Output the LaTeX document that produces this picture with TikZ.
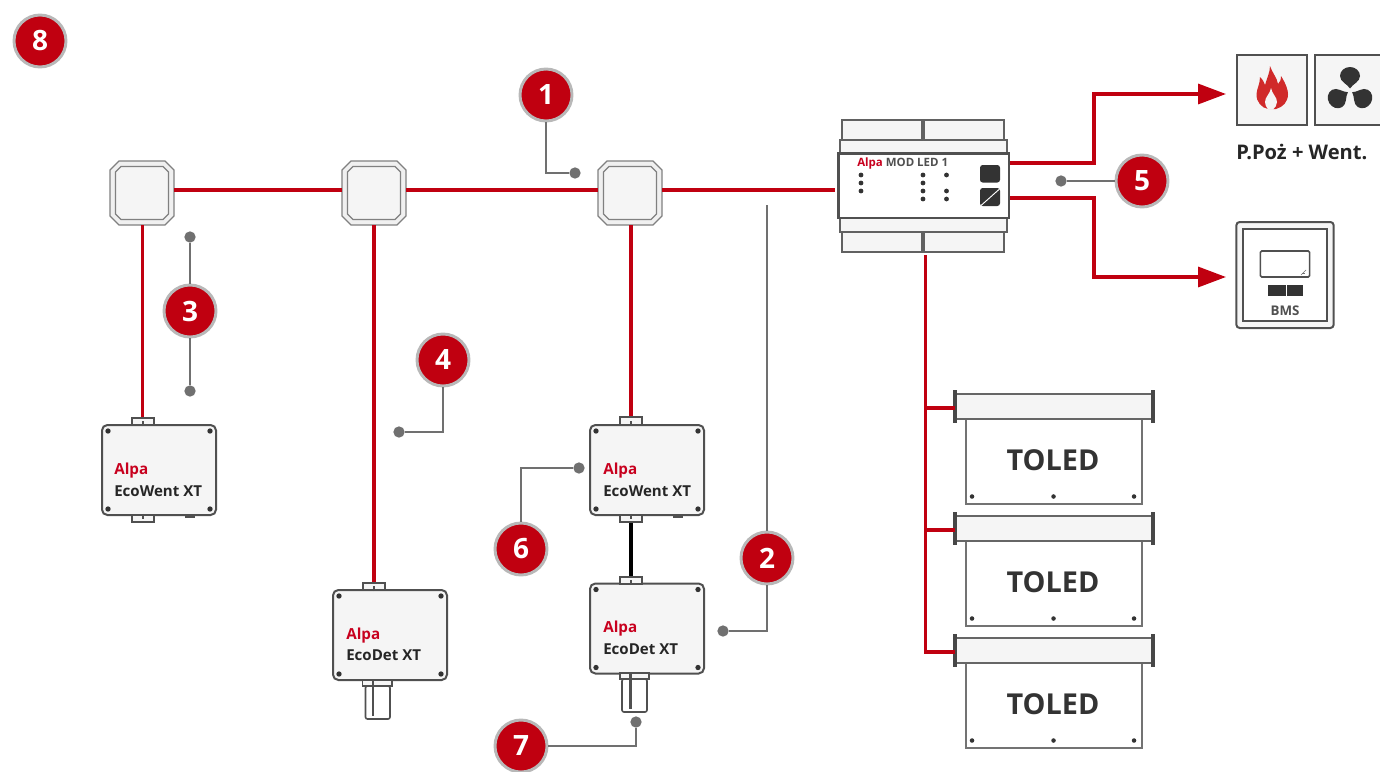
\documentclass[tikz,border=0pt]{standalone}
\usepackage{fontspec}
\setmainfont{Open Sans}
\usetikzlibrary{arrows.meta}
\usetikzlibrary{calc}
\definecolor{alpared}{HTML}{C00010}
\definecolor{alpatxt}{HTML}{C8001E}
\definecolor{edgegray}{HTML}{505050}
\definecolor{leadgray}{HTML}{707070}
\definecolor{panel}{HTML}{F5F5F5}
\definecolor{inkdark}{HTML}{333333}
\definecolor{flamered}{HTML}{D02A2A}
\tikzset{
    redline/.style={draw=alpared, line width=2.5pt},
    leader/.style={draw=leadgray, line width=1.2pt},
    leaddot/.style={circle, fill=leadgray, inner sep=0pt, minimum size=8.5pt},
    callout/.style={circle, fill=alpared, draw=black!28, line width=2.2pt, inner sep=0pt,
        minimum size=39pt, text=white, font=\bfseries\fontsize{21}{21}\selectfont},
    hubspot/.style={inner sep=0pt, minimum size=48pt},
    hubline/.style={draw=black!50, line width=0.9pt},
    devbox/.style={draw=edgegray, line width=1.5pt, fill=panel, rounded corners=4pt, inner sep=0pt,
        minimum width=85.5pt, minimum height=67.5pt},
    gland/.style={draw=edgegray, line width=1.5pt, fill=panel, inner sep=0pt,
        minimum width=16pt, minimum height=5.5pt},
    tube/.style={draw=edgegray, line width=1.2pt, fill=white, rounded corners=1.5pt},
    tick/.style={draw=edgegray, line width=2pt},
    alpatext/.style={anchor=base west, inner sep=0pt, text=alpatxt, font=\bfseries\fontsize{11.4}{12}\selectfont},
    devtext/.style={anchor=base west, inner sep=0pt, text=black!85, font=\bfseries\fontsize{11.3}{12}\selectfont},
    railbox/.style={draw=edgegray!90, line width=1.8pt, fill=panel},
    toledtext/.style={text=inkdark, font=\bfseries\fontsize{21.6}{23}\selectfont},
    darkdot/.style={fill=inkdark},
}
\begin{document}
\begin{tikzpicture}[x=0.75pt, y=-0.75pt]
    \useasboundingbox (0,0) rectangle (1380,771);
    \clip (0,0) rectangle (1380,771);

    % hubs on the bus
    \node[hubspot] (hubA) at (142,193) {};
    \node[hubspot] (hubB) at (374,193) {};
    \node[hubspot] (hubC) at (630,193) {};
    \foreach \hb in {hubA,hubB,hubC}{
        \draw[hubline, fill=black!6] ($(\hb)+(-23,-32)$) -- ($(\hb)+(23,-32)$) -- ($(\hb)+(32,-23)$) -- ($(\hb)+(32,23)$)
            -- ($(\hb)+(23,32)$) -- ($(\hb)+(-23,32)$) -- ($(\hb)+(-32,23)$) -- ($(\hb)+(-32,-23)$) -- cycle;
        \draw[hubline, fill=panel] ($(\hb)+(-21,-26.5)$) -- ($(\hb)+(21,-26.5)$) -- ($(\hb)+(26.5,-21)$) -- ($(\hb)+(26.5,21)$)
            -- ($(\hb)+(21,26.5)$) -- ($(\hb)+(-21,26.5)$) -- ($(\hb)+(-26.5,21)$) -- ($(\hb)+(-26.5,-21)$) -- cycle;
    }

    % devices
    \node[devbox] (wentA) at (159,470) {};
    \node[devbox] (detB) at (390,635) {};
    \node[devbox] (wentC) at (647,470) {};
    \node[devbox] (detC) at (647,628.5) {};
    \foreach \dev in {wentA,detB,wentC,detC}{
        \fill[darkdot] ($(\dev.north west)+(7,7)$) circle (2pt);
        \fill[darkdot] ($(\dev.north east)+(-7,7)$) circle (2pt);
        \fill[darkdot] ($(\dev.south west)+(7,-7)$) circle (2pt);
        \fill[darkdot] ($(\dev.south east)+(-7,-7)$) circle (2pt);
    }

    % glands
    \node[gland] (glandA) at (143,421.5) {};
    \node[gland] (glandAb) at (143,518.5) {};
    \node[gland] (glandB) at (374,586.5) {};
    \node[gland] (glandC) at (631,421) {};
    \node[gland] (glandCb) at (631,518.5) {};
    \node[gland] (glandD) at (631,580.5) {};
    \foreach \gl in {glandA,glandB,glandC,glandD}
        \draw[tick] (\gl.south) -- ++(0,-5);
    \foreach \gl in {glandAb,glandCb}
        \draw[tick] (\gl.north) -- ++(0,5);
    \fill[edgegray] (185,515) rectangle (195,517.5);
    \fill[edgegray] (673,515) rectangle (683,517.5);

    % probes
    \draw[tube] (365.5,686) rectangle (390,719);
    \draw[tube, rounded corners=0pt, fill=panel] (362.5,680) rectangle (392,686);
    \draw[tick, line width=2.2pt] (373,681) -- (373,716);
    \draw[tube] (622,679) rectangle (647,712);
    \draw[tube, rounded corners=0pt, fill=panel] (620,673) rectangle (649,679);
    \draw[tick, line width=2.2pt] (630.5,674) -- (630.5,709);

    % device labels
    \node[alpatext] (lblA1) at (114,474) {Alpa};
    \node[devtext] (lblA2) at (114,496) {EcoWent XT};
    \node[alpatext] (lblB1) at (346,639) {Alpa};
    \node[devtext] (lblB2) at (346,660.5) {EcoDet XT};
    \node[alpatext] (lblC1) at (603,474) {Alpa};
    \node[devtext] (lblC2) at (603,496) {EcoWent XT};
    \node[alpatext] (lblD1) at (603,632) {Alpa};
    \node[devtext] (lblD2) at (603,654) {EcoDet XT};

    % DIN module
    \draw[railbox] (842,120) rectangle (1004,140);
    \draw[railbox] (842,232) rectangle (1004,252);
    \draw[railbox] (840,140) rectangle (1007,153);
    \draw[railbox] (840,218) rectangle (1007,232);
    \draw[railbox, line width=2.4pt] (923,120) -- (923,140);
    \draw[railbox, line width=2.4pt] (923,232) -- (923,252);
    \node[draw=edgegray, line width=2pt, fill=white, minimum width=128pt, minimum height=48.5pt, inner sep=0pt] (modMain) at (923.5,185.5) {};
    \node[anchor=west, inner sep=0pt, font=\bfseries\fontsize{8.6}{9}\selectfont, text=edgegray] (modLabel) at (857,163.5) {\textcolor{alpatxt}{Alpa} MOD LED 1};
    \foreach \yy in {175,183,191}
        \fill[darkdot] (861,\yy) circle (1.8pt);
    \foreach \yy in {175,183,191,199}
        \fill[darkdot] (923,\yy) circle (1.8pt);
    \foreach \yy in {175,191,199}
        \fill[darkdot] (946.5,\yy) circle (1.8pt);
    \fill[inkdark, rounded corners=2pt] (980,165) rectangle (1000,182.5);
    \fill[inkdark, rounded corners=2pt] (980,188) rectangle (1000,206);
    \draw[white, line width=0.7pt] (981,205.5) -- (999.5,189);

    % bus
    \coordinate (busEnd) at (835,190);
    \coordinate (hubAe) at (174,190);
    \coordinate (hubBw) at (342,190);
    \coordinate (hubBe) at (406,190);
    \coordinate (hubCw) at (598,190);
    \coordinate (hubCe) at (662,190);
    \coordinate (hubAs) at (142.5,225);
    \coordinate (hubBs) at (374,225);
    \coordinate (hubCs) at (631,225);
    \draw[redline] (hubAe) -- (hubBw);
    \draw[redline] (hubBe) -- (hubCw);
    \draw[redline] (hubCe) -- (busEnd);
    \draw[redline] (hubAs) -- (hubAs |- glandA.north);
    \draw[redline] (hubBs) -- (glandB.north);
    \draw[redline] (hubCs) -- (glandC.north);
    \draw[draw=black, line width=2.6pt] (glandCb.south) -- (glandD.north);

    % outputs
    \coordinate (modOutA) at (1010,163);
    \coordinate (modOutB) at (1010,198);
    \coordinate (turnA) at (1094,94);
    \coordinate (turnB) at (1094,277);
    \coordinate (fireIn) at (1226,94);
    \coordinate (bmsIn) at (1226,277);
    \draw[redline, -{Triangle[length=21pt,width=15pt]}] (modOutA) -| (turnA) -- (fireIn);
    \draw[redline, -{Triangle[length=21pt,width=15pt]}] (modOutB) -| (turnB) -- (bmsIn);

    % fire and fan
    \node[draw=edgegray, line width=1.5pt, fill=panel, minimum size=52pt, inner sep=0pt] (fireBox) at (1272,90) {};
    \node[draw=edgegray, line width=1.5pt, fill=panel, minimum size=52pt, inner sep=0pt] (fanBox) at (1350,90) {};
    \coordinate (fanHub) at (1350,91);
    \fill[flamered] (1270,66) .. controls (1273,74) and (1277,78) .. (1278,84)
        .. controls (1280,82) and (1281,80) .. (1281,76)
        .. controls (1286,84) and (1288,90) .. (1288,94)
        .. controls (1288,102) and (1283,107) .. (1276,109)
        -- (1268,109) .. controls (1262,108) and (1256,102) .. (1256.5,94)
        .. controls (1257,88) and (1260,84) .. (1260,77)
        .. controls (1263,80) and (1264,82) .. (1265,85)
        .. controls (1267,78) and (1270,72) .. (1270,66) -- cycle;
    \fill[panel] (1271,88) .. controls (1272,94) and (1277,97) .. (1277,102)
        .. controls (1277,105) and (1275,108) .. (1273,109.5)
        -- (1268,109.5) .. controls (1266,107) and (1265,104) .. (1265,102)
        .. controls (1265,97) and (1270,94) .. (1271,88) -- cycle;
    \foreach \ang in {0,120,240}
        \fill[inkdark, rotate around={\ang:(fanHub)}] (1350,88.5) .. controls (1347.5,84) and (1340,82) .. (1340,76)
            .. controls (1340,71) and (1344.5,67) .. (1350,67)
            .. controls (1355.5,67) and (1360,71) .. (1360,76)
            .. controls (1360,82) and (1352.5,84) .. (1350,88.5) -- cycle;
    \node[anchor=west, inner sep=0pt, text=black!85, font=\bfseries\fontsize{15.1}{16}\selectfont] (fireLabel) at (1236,152) {P.Poż + Went.};

    % BMS panel
    \node[draw=edgegray, line width=1.5pt, fill=panel, rounded corners=2.5pt, minimum width=73pt, minimum height=79.5pt, inner sep=0pt] (bmsBox) at (1285,275) {};
    \node[draw=edgegray, line width=1.3pt, fill=white, minimum width=62.5pt, minimum height=69pt, inner sep=0pt] (bmsInner) at (1285,275) {};
    \node[draw=edgegray, line width=1.2pt, fill=white, rounded corners=1pt, minimum width=37pt, minimum height=19.5pt, inner sep=0pt] (bmsScreen) at (1285,264) {};
    \draw[black!55, line width=0.5pt] (1301,275) -- (1306,270);
    \draw[black!55, line width=0.5pt] (1302,273) -- (1305,273);
    \fill[inkdark] (1268,285) rectangle (1286,296);
    \fill[inkdark] (1287,285) rectangle (1303,296);
    \node[text=edgegray, inner sep=0pt, font=\bfseries\fontsize{10}{10}\selectfont] (bmsLabel) at (1285,311) {BMS};

    % TOLED signs
    \foreach \nm/\yy in {signA/0,signB/122,signC/244}{
        \node[draw=black!55, line width=1.5pt, fill=white, minimum width=132pt, minimum height=64pt, inner sep=0pt] (\nm) at (1054,461.5+\yy) {};
        \node[draw=black!60, line width=1.5pt, fill=panel, minimum width=149pt, minimum height=19pt, inner sep=0pt] (\nm top) at (1054,406.5+\yy) {};
        \draw[inkdark!90, line width=2.3pt] (955,390+\yy) -- (955,423+\yy);
        \draw[inkdark!90, line width=2.3pt] (1153,390+\yy) -- (1153,423+\yy);
        \node[toledtext] (\nm txt) at (1053,460+\yy) {TOLED};
        \foreach \xx in {972,1053.5,1134}
            \fill[darkdot] (\xx,496.5+\yy) circle (1.7pt);
    }
    \coordinate (trunkTop) at (925.5,255);
    \coordinate (trunkEnd) at (925.5,652);
    \coordinate (branchA) at (925.5,408);
    \coordinate (branchB) at (925.5,530);
    \draw[redline] (trunkTop) -- (trunkEnd) -- ++(29,0);
    \draw[redline] (branchA) -- ++(29,0);
    \draw[redline] (branchB) -- ++(29,0);

    % callouts
    \node[callout] (numEight) at (40,41) {8};
    \node[callout] (numOne) at (546,95) {1};
    \node[callout] (numFive) at (1142,181) {5};
    \node[callout] (numThree) at (190,311) {3};
    \node[callout] (numFour) at (443,360) {4};
    \node[callout] (numTwo) at (767,558) {2};
    \node[callout] (numSix) at (521,549) {6};
    \node[callout] (numSeven) at (521,746) {7};

    % leaders
    \node[leaddot] (dotOne) at (575,173) {};
    \node[leaddot] (dotFive) at (1061,181) {};
    \node[leaddot] (dotThreeA) at (190,237) {};
    \node[leaddot] (dotThreeB) at (190,391) {};
    \node[leaddot] (dotFour) at (399,432) {};
    \node[leaddot] (dotTwo) at (723,631) {};
    \node[leaddot] (dotSix) at (579,468) {};
    \node[leaddot] (dotSeven) at (636,722) {};
    \coordinate (twoEnd) at (767,205);
    \draw[leader] (numOne.south) |- (dotOne);
    \draw[leader] (numFive.west) -- (dotFive);
    \draw[leader] (numThree.north) -- (dotThreeA);
    \draw[leader] (numThree.south) -- (dotThreeB);
    \draw[leader] (numFour.south) |- (dotFour);
    \draw[leader] (numTwo.north) -- (twoEnd);
    \draw[leader] (numTwo.south) |- (dotTwo);
    \draw[leader] (numSix.north) |- (dotSix);
    \draw[leader] (numSeven.east) -| (dotSeven);
\end{tikzpicture}
\end{document}
